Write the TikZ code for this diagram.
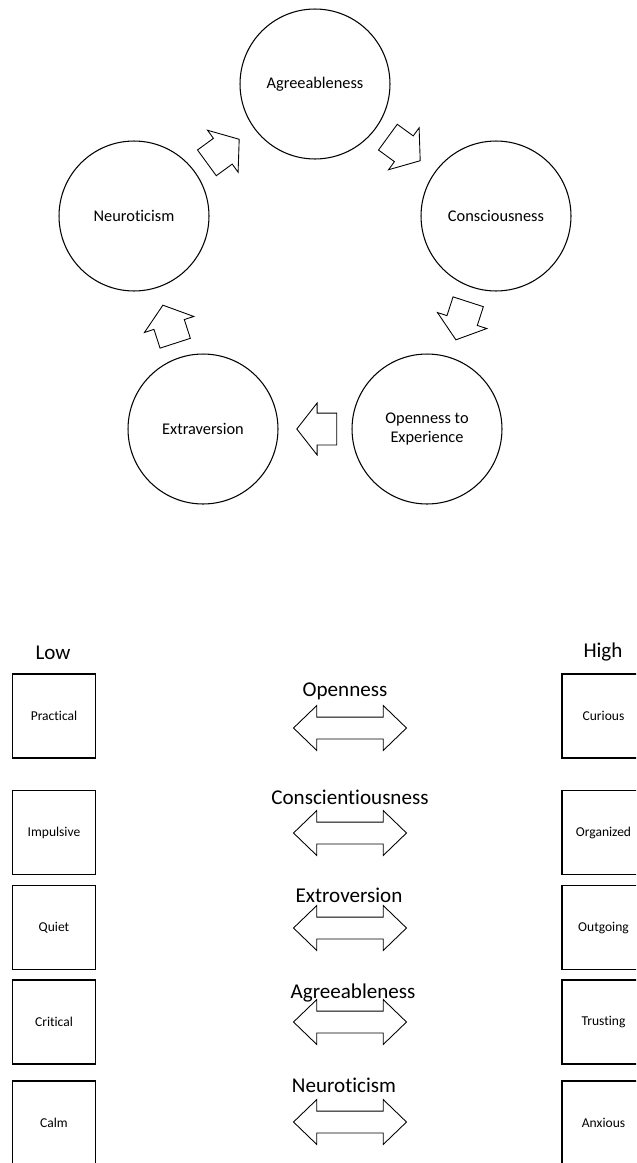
\documentclass[tikz,border=0pt]{standalone}
\usepackage{fontspec}
\setmainfont{Carlito}[Ligatures=NoCommon]
\usetikzlibrary{shapes.arrows}

\begin{document}
\begin{tikzpicture}[x=0.02cm, y=-0.02cm,
    trait/.style={shape=circle, draw=black, line width=0.6pt, minimum size=3cm,
      inner sep=0pt, align=center, font=\fontsize{9.3}{10.5}\selectfont},
    cyclearrow/.style={single arrow, draw=black, line width=0.5pt,
      minimum height=0.8cm, single arrow head extend=0.2cm,
      single arrow tip angle=104, inner xsep=0pt, inner ysep=0.31cm,
      pos=0.39, sloped, allow upside down},
    pole/.style={shape=rectangle, draw=black, line width=0.6pt,
      minimum width=1.66cm, minimum height=1.68cm, inner sep=0pt,
      font=\fontsize{7.7}{9}\selectfont},
    scalearrow/.style={double arrow, draw=black, line width=0.5pt,
      minimum height=2.26cm, double arrow head extend=0.23cm,
      double arrow tip angle=88, inner xsep=0pt, inner ysep=0.21cm},
    heading/.style={font=\fontsize{12}{14}\selectfont}]
    \useasboundingbox (0,0) rectangle (636,1163);
    \clip (0,0) rectangle (636,1163);
    % cycle of the five traits
    \node[trait] (agree) at (315,84) {Agreeableness};
    \node[trait] (consc) at (496,216) {Consciousness};
    \node[trait] (open) at (427,429) {Openness to\\Experience};
    \node[trait] (extra) at (203,429) {Extraversion};
    \node[trait] (neuro) at (134,216) {Neuroticism};
    \path (neuro) -- node[cyclearrow] (na) {} (agree);
    \path (agree) -- node[cyclearrow] (ac) {} (consc);
    \path (consc) -- node[cyclearrow] (co) {} (open);
    \path (open) -- node[cyclearrow] (oe) {} (extra);
    \path (extra) -- node[cyclearrow] (en) {} (neuro);
    % low / high scales
    \node[heading] (low) at (53,653) {Low};
    \node[heading] (high) at (603,652) {High};
    \node[pole] (practical) at (54,716) {Practical};
    \node[pole] (curious) at (603.5,716) {Curious};
    \node[heading] (opentitle) at (345,691) {Openness};
    \node[scalearrow] (openscale) at (350,728) {};
    \node[pole] (impulsive) at (54,832.5) {Impulsive};
    \node[pole] (organized) at (603.5,832.5) {Organized};
    \node[heading] (consctitle) at (350,797) {Conscientiousness};
    \node[scalearrow] (conscscale) at (350,833) {};
    \node[pole] (quiet) at (54,927.5) {Quiet};
    \node[pole] (outgoing) at (603.5,927.5) {Outgoing};
    \node[heading] (extratitle) at (349,895) {Extroversion};
    \node[scalearrow] (extrascale) at (350,928) {};
    \node[pole] (critical) at (54,1022) {Critical};
    \node[pole] (trusting) at (603.5,1022) {Trusting};
    \node[scalearrow] (agreescale) at (350,1022) {};
    \node[heading] (agreetitle) at (353,993) {Agreeableness};
    \node[pole] (calm) at (54,1123) {Calm};
    \node[pole] (anxious) at (603.5,1123) {Anxious};
    \node[heading] (neurotitle) at (344,1085) {Neuroticism};
    \node[scalearrow] (neuroscale) at (350,1122) {};
\end{tikzpicture}
\end{document}
